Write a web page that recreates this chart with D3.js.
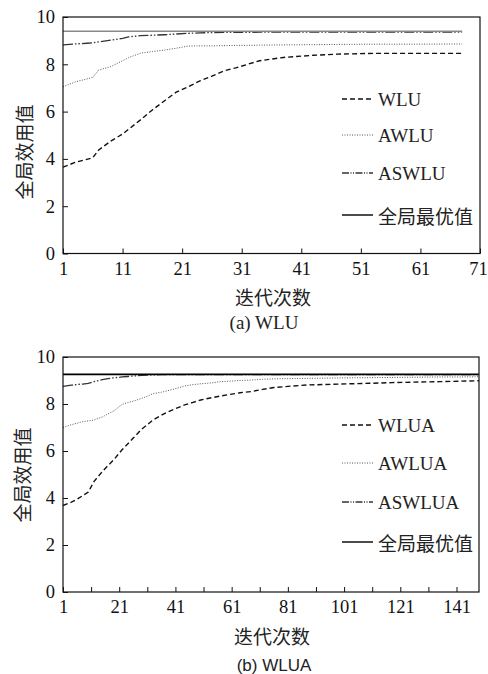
<!DOCTYPE html>
<html><head><meta charset="utf-8">
<script src="https://cdn.jsdelivr.net/npm/d3@7"></script>
<style>
html,body{margin:0;padding:0;background:#fff;}
svg{display:block;}
</style></head>
<body>
<svg id="chart" width="488" height="674"></svg>
<script>
// ---------- data: panel (a) WLU ----------
const itersA = [1,3,5,6,7,9,11,12,14,16,18,20,22,24,26,28,30,32,34,38,43,47,53,60,68];
const wluA   = [3.65,3.85,3.98,4.05,4.38,4.75,5.05,5.25,5.65,6.07,6.45,6.82,7.05,7.3,7.5,7.72,7.85,8.0,8.15,8.29,8.38,8.43,8.46,8.46,8.46];
const awluA  = [7.05,7.25,7.38,7.45,7.76,7.9,8.15,8.28,8.47,8.54,8.6,8.68,8.77,8.78,8.78,8.79,8.8,8.8,8.81,8.82,8.83,8.84,8.85,8.85,8.86];
const aswluA = [8.82,8.86,8.89,8.91,8.95,9.02,9.1,9.16,9.21,9.23,9.25,9.28,9.31,9.33,9.34,9.35,9.35,9.35,9.36,9.36,9.36,9.36,9.36,9.36,9.36];
const optA   = [9.4,9.4,9.4,9.4,9.4,9.4,9.4,9.4,9.4,9.4,9.4,9.4,9.4,9.4,9.4,9.4,9.4,9.4,9.4,9.4,9.4,9.4,9.4,9.4,9.4];
const namesA = ["WLU","AWLU","ASWLU","全局最优值"];
const xTicksA = [1,11,21,31,41,51,61,71];

// ---------- data: panel (b) WLUA ----------
const itersB = [1,4,6,8,10,12,15,17,19,22,24,26,29,31,33,36,38,41,44,47,50,54,57,60,64,68,72,76,82,88,94,100,110,118,126,135,142,149];
const wluaB  = [3.68,3.82,3.95,4.1,4.25,4.7,5.13,5.38,5.62,6.05,6.3,6.55,6.93,7.12,7.32,7.52,7.65,7.8,7.95,8.06,8.17,8.27,8.34,8.4,8.48,8.53,8.62,8.7,8.76,8.81,8.83,8.85,8.88,8.91,8.93,8.95,8.97,8.99];
const awluaB = [7.0,7.12,7.18,7.25,7.28,7.32,7.45,7.58,7.7,7.98,8.06,8.12,8.24,8.33,8.44,8.5,8.56,8.65,8.76,8.82,8.86,8.9,8.95,8.97,9.0,9.02,9.05,9.07,9.08,9.09,9.1,9.11,9.12,9.13,9.14,9.15,9.15,9.16];
const aswluaB= [8.75,8.8,8.83,8.85,8.88,8.95,9.04,9.08,9.11,9.15,9.17,9.19,9.22,9.23,9.24,9.25,9.25,9.25,9.25,9.25,9.25,9.25,9.25,9.25,9.25,9.25,9.25,9.25,9.25,9.25,9.25,9.25,9.25,9.25,9.25,9.25,9.25,9.25];
const optB   = itersB.map(() => 9.26);
const namesB = ["WLUA","AWLUA","ASWLUA","全局最优值"];
const xTicksB = [1,11,21,31,41,51,61,71,81,91,101,111,121,131,141];
const xLabelsB = [1,21,41,61,81,101,121,141];

const yTicks = [0,2,4,6,8,10];
const yTitle = "全局效用值";
const xTitle = "迭代次数";

const SERIF = "'Liberation Serif','Times New Roman',serif";
const CJK = "'Noto Sans CJK SC','Noto Sans',sans-serif";
const SANS = "'Liberation Sans',Arial,sans-serif";

const svg = d3.select("#chart");

function panel(cfg){
  const g = svg.append("g");
  const x = d3.scaleLinear().domain(cfg.xDomain).range([cfg.left, cfg.right]);
  const y = d3.scaleLinear().domain([0,10]).range([cfg.bottom, cfg.top]);

  const styles = [
    {stroke:"#111", w:1.4, dash:"5,3"},
    {stroke:"#555", w:1.0, dash:"1,1.5"},
    {stroke:"#333", w:1.3, dash:"10,2,1.5,2,1.5,2"},
    {stroke:cfg.optColor, w:cfg.optWidth, dash:null}
  ];
  const line = d3.line().x(d => x(d[0])).y(d => y(d[1]));
  cfg.series.forEach((vals, i) => {
    const pts = cfg.iters.map((it, k) => [it, vals[k]]);
    const st = styles[i];
    g.append("path").datum(pts).attr("d", line)
      .attr("fill","none").attr("stroke", st.stroke).attr("stroke-width", st.w)
      .attr("stroke-dasharray", st.dash);
  });

  g.append("rect").attr("x", cfg.left).attr("y", cfg.top)
    .attr("width", cfg.right - cfg.left).attr("height", cfg.bottom - cfg.top)
    .attr("fill","none").attr("stroke","#111").attr("stroke-width",1.2);

  const xAxis = d3.axisBottom(x).tickValues(cfg.xTicks).tickSizeInner(-5).tickSizeOuter(0)
    .tickFormat(d => cfg.xLabels.includes(d) ? d : "");
  const xa = g.append("g").attr("transform", `translate(0,${cfg.bottom})`).call(xAxis);
  xa.attr("font-family", null).attr("font-size", null);
  xa.select(".domain").remove();
  xa.selectAll(".tick line").attr("stroke","#111");
  xa.selectAll(".tick text").style("font-family", SERIF).style("font-size", "18.5px")
    .attr("fill","#111").attr("y", 8)
    .attr("dx", d => d === cfg.xDomain[1] ? -2 : 0);

  const yAxis = d3.axisLeft(y).tickValues(yTicks).tickSizeInner(-5).tickSizeOuter(0);
  const ya = g.append("g").attr("transform", `translate(${cfg.left},0)`).call(yAxis);
  ya.attr("font-family", null).attr("font-size", null);
  ya.select(".domain").remove();
  ya.selectAll(".tick line").attr("stroke","#111");
  ya.selectAll(".tick text").style("font-family", SERIF).style("font-size", "18.5px")
    .attr("fill","#111").attr("x", -8);

  g.append("text").attr("transform", `translate(${cfg.yTitleX},${cfg.yTitleY}) rotate(-90)`)
    .attr("text-anchor","middle").attr("dominant-baseline","central")
    .style("font-family", CJK).style("font-size","19px").attr("fill","#222").text(yTitle);
  g.append("text").attr("x", cfg.xTitleX).attr("y", cfg.xTitleY)
    .attr("text-anchor","middle").attr("dominant-baseline","central")
    .style("font-family", CJK).style("font-size","19px").attr("fill","#222").text(xTitle);
  g.append("text").attr("x", cfg.capX).attr("y", cfg.capY)
    .attr("text-anchor","middle").attr("dominant-baseline","central")
    .style("font-family", cfg.capFont).style("font-size", cfg.capSize + "px").attr("fill","#222").text(cfg.caption);

  cfg.names.forEach((n, i) => {
    const ly = cfg.legendY[i];
    const st = styles[i];
    g.append("line").attr("x1", 342).attr("x2", 373).attr("y1", ly).attr("y2", ly)
      .attr("stroke", i === 3 ? "#111" : st.stroke).attr("stroke-width", i === 3 ? 1.5 : st.w)
      .attr("stroke-dasharray", i === 2 ? "7,1.5,1,1.5,1,1.5" : st.dash);
    g.append("text").attr("x", 378).attr("y", ly).attr("dominant-baseline","central")
      .style("font-family", i === 3 ? CJK : SERIF).style("font-size","19px").attr("fill","#222").text(n);
  });
}

panel({
  left:63, right:480, top:17, bottom:253.5, xDomain:[1,71],
  iters: itersA, series:[wluA, awluA, aswluA, optA], names: namesA,
  xTicks: xTicksA, xLabels: xTicksA, optColor:"#888", optWidth:1.6,
  yTitleX:23, yTitleY:152, xTitleX:273, xTitleY:296,
  caption:"(a) WLU", capX:264, capY:322, capFont:SERIF, capSize:19,
  legendY:[99,135,173,215]
});
panel({
  left:63, right:479, top:357, bottom:592, xDomain:[1,149],
  iters: itersB, series:[wluaB, awluaB, aswluaB, optB], names: namesB,
  xTicks: xTicksB, xLabels: xLabelsB, optColor:"#000", optWidth:1.6,
  yTitleX:21, yTitleY:475, xTitleX:272, xTitleY:635,
  caption:"(b) WLUA", capX:274, capY:665, capFont:SANS, capSize:17,
  legendY:[425,463,502,542]
});
</script>
</body></html>
